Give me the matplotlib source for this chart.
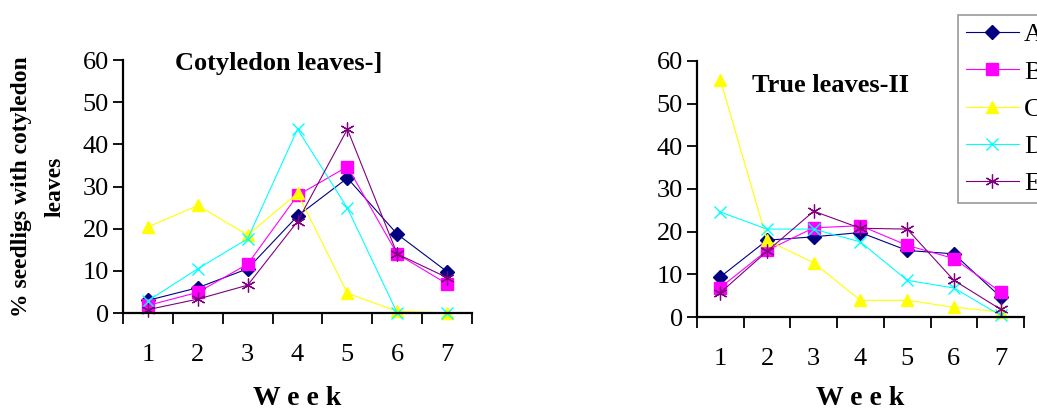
import matplotlib
matplotlib.use("Agg")
import matplotlib.pyplot as plt
from matplotlib.ticker import FixedLocator, NullFormatter, FixedFormatter

plt.rcParams['font.family'] = ['Liberation Serif', 'DejaVu Serif']

weeks = [1, 2, 3, 4, 5, 6, 7]
week_labels = ["1", "2", "3", "4", "5", "6", "7"]
series_names = ["A", "B", "C", "D", "E"]

# % seedlings with cotyledon leaves, per week
cot_A = [3, 6, 10.5, 23, 32, 18.7, 9.8]
cot_B = [1.8, 4.9, 11.6, 27.9, 34.7, 14, 6.9]
cot_C = [20.4, 25.5, 18.5, 28.4, 4.7, 0.4, 0]
cot_D = [2.9, 10.5, 17.6, 43.6, 24.9, 0, 0]
cot_E = [0.8, 3.3, 6.6, 21.7, 43.6, 14, 8.4]

# % seedlings with true leaves, per week
true_A = [9.4, 18, 18.8, 19.8, 15.6, 14.8, 4.7]
true_B = [6.9, 15.6, 20.9, 21.4, 16.8, 13.7, 5.9]
true_C = [55.6, 18, 12.7, 3.9, 3.9, 2.3, 1.2]
true_D = [24.6, 20.6, 20.6, 17.6, 8.6, 6.8, 0.4]
true_E = [5.7, 15.4, 24.8, 20.8, 20.6, 8.6, 1.8]

styles = {
    "A": dict(color="#000080", marker="D", markersize=7, mfc="#000080", mec="#000080"),
    "B": dict(color="#FF00FF", marker="s", markersize=9, mfc="#FF00FF", mec="#FF00FF"),
    "C": dict(color="#FFFF00", marker="^", markersize=9, mfc="#FFFF00", mec="#FFFF00"),
    "D": dict(color="#00FFFF", marker="x", markersize=8, mec="#00FFFF", mew=1.0),
    "E": dict(color="#800080", marker=(6, 2, 0), markersize=10, mec="#800080", mew=0.9),
}

TICK_FS = 19

fig = plt.figure(figsize=(10.37, 4.11), dpi=100)
fig.patch.set_facecolor("white")


def setup_axes(ax, title, title_xy):
    ax.set_xlim(0.5, 7.5)
    ax.set_ylim(0, 60)
    for s in ("top", "right"):
        ax.spines[s].set_visible(False)
    for s in ("left", "bottom"):
        ax.spines[s].set_linewidth(1.6)
        ax.spines[s].set_color("black")
    ax.set_yticks([0, 10, 20, 30, 40, 50, 60])
    ax.tick_params(axis="y", direction="out", length=7, width=1.3,
                   labelsize=TICK_FS, pad=3)
    # category boundaries carry the tick marks, labels sit at category centres
    ax.xaxis.set_major_locator(FixedLocator([0.5 + i for i in range(8)]))
    ax.xaxis.set_major_formatter(NullFormatter())
    ax.xaxis.set_minor_locator(FixedLocator(weeks))
    ax.xaxis.set_minor_formatter(FixedFormatter(week_labels))
    ax.tick_params(axis="x", which="major", direction="out", length=8, width=1.3)
    ax.tick_params(axis="x", which="minor", length=0, labelsize=TICK_FS, pad=22)
    ax.text(title_xy[0], title_xy[1], title, transform=ax.transAxes,
            fontsize=19, fontweight="bold", ha="left", va="center")


ax1 = fig.add_axes([0.1186, 0.2384, 0.3366, 0.6156])
ax2 = fig.add_axes([0.6721, 0.2287, 0.3153, 0.6229])

cot = [cot_A, cot_B, cot_C, cot_D, cot_E]
true = [true_A, true_B, true_C, true_D, true_E]

lines = []
for name, vals in zip(series_names, cot):
    ax1.plot(weeks, vals, lw=0.8, clip_on=False, **styles[name])
for name, vals in zip(series_names, true):
    ln, = ax2.plot(weeks, vals, lw=0.8, clip_on=False, label=name, **styles[name])
    lines.append(ln)

setup_axes(ax1, "Cotyledon leaves-]", (0.148, 0.985))
setup_axes(ax2, "True leaves-II", (0.168, 0.905))

ax1.set_ylabel("% seedligs with cotyledon\nleaves", fontsize=17, fontweight="bold",
               linespacing=1.75)
ax1.yaxis.set_label_coords(-0.165, 0.5)
ax1.set_xlabel("W e e k", fontsize=20, fontweight="bold", labelpad=15)
ax2.set_xlabel("W e e k", fontsize=20, fontweight="bold", labelpad=12)

leg = fig.legend(handles=lines, labels=series_names, loc="upper left",
                 bbox_to_anchor=(958 / 1037, 1 - 15 / 411), frameon=True,
                 fancybox=False, edgecolor="#808080", fontsize=TICK_FS,
                 handlelength=2.0, handletextpad=0.2, labelspacing=0.52,
                 borderpad=0.3, borderaxespad=0)
leg.get_frame().set_linewidth(1.2)

fig.savefig("out.png", dpi=100, facecolor="white")
